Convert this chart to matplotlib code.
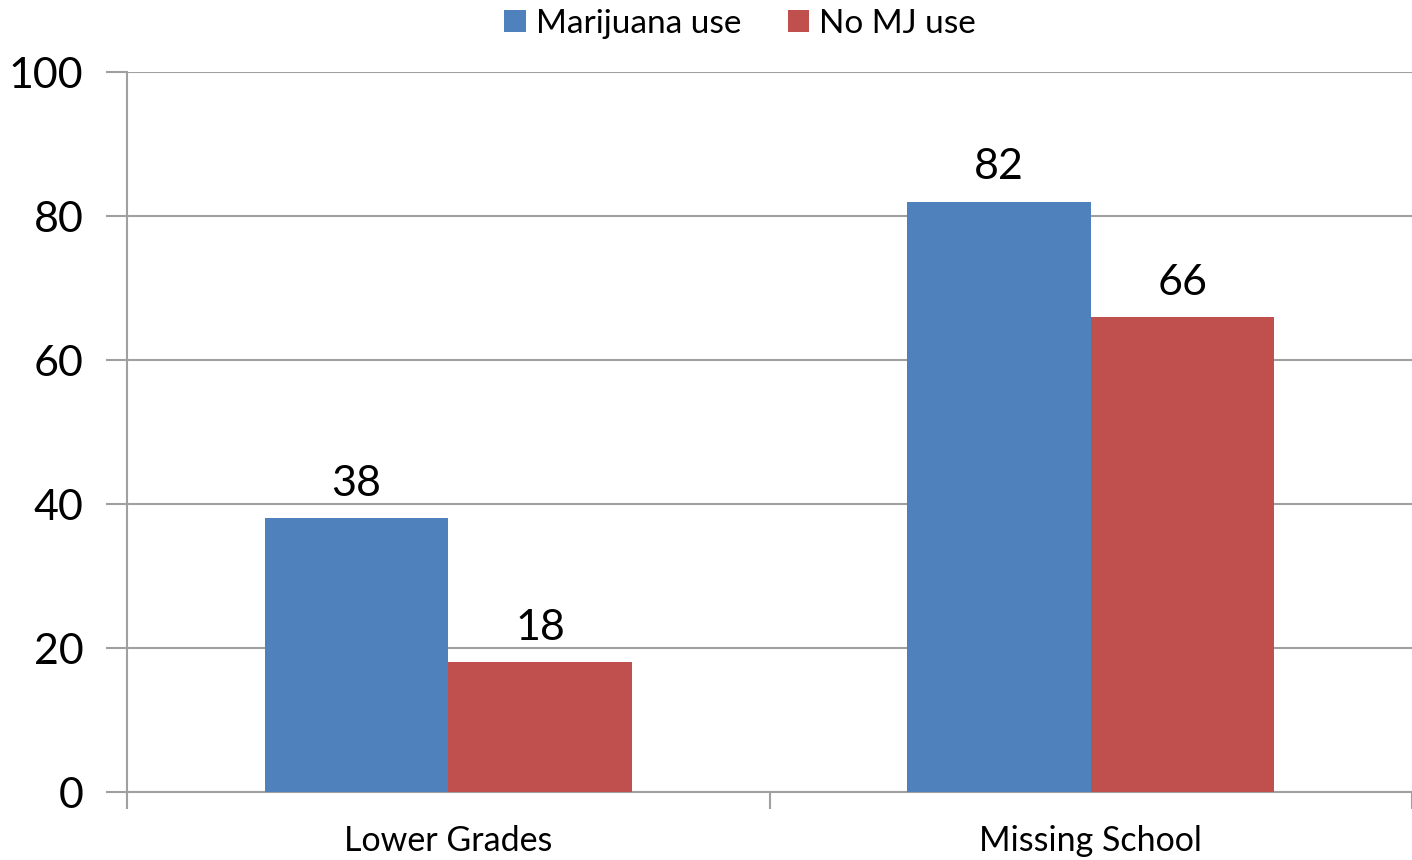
import matplotlib
matplotlib.use("Agg")
import matplotlib.pyplot as plt
import numpy as np

categories = ["Lower Grades", "Missing School"]
mj_use = [38, 82]
no_mj_use = [18, 66]
series_names = ["Marijuana use", "No MJ use"]

plt.rcParams['font.family'] = ['Lato', 'DejaVu Sans']

fig = plt.figure(figsize=(14.12, 8.6), dpi=100)
ax = fig.add_axes([127/1412, 68/860, 1 - 127/1412, 720/860])

x = np.arange(len(categories))
w = 0.2857
grid_c = '#a0a0a0'

b1 = ax.bar(x - w/2, mj_use, w, color='#4F81BD', label=series_names[0], zorder=3)
b2 = ax.bar(x + w/2, no_mj_use, w, color='#C0504D', label=series_names[1], zorder=3)
ax.bar_label(b1, padding=11, fontsize=31)
ax.bar_label(b2, padding=11, fontsize=31)

ax.set_xlim(-0.5, 1.5)
ax.set_ylim(0, 100)
ax.set_yticks(range(0, 101, 20))
ax.tick_params(axis='y', labelsize=31, length=15, width=1.5, color=grid_c, pad=16.5)
ax.yaxis.grid(True, color=grid_c, linewidth=1.5, zorder=0)

# category ticks sit on the boundaries, labels in the middle
ax.set_xticks([-0.5, 0.5, 1.5])
ax.set_xticklabels([])
ax.set_xticks(x, minor=True)
ax.set_xticklabels(categories, minor=True)
ax.tick_params(axis='x', which='major', length=12, width=1.5, color=grid_c)
ax.tick_params(axis='x', which='minor', length=0, labelsize=24.5, pad=24)

for side in ['top', 'right']:
    ax.spines[side].set_visible(False)
for side in ['left', 'bottom']:
    ax.spines[side].set_color(grid_c)
    ax.spines[side].set_linewidth(1.5)

fig.legend(handles=[b1, b2], loc='center', bbox_to_anchor=(740/1412, 1 - 24/860),
           ncol=2, frameon=False, fontsize=24, handlelength=0.65, handleheight=0.65,
           handletextpad=0.3, columnspacing=1.4)

fig.savefig('out.png', dpi=100)
